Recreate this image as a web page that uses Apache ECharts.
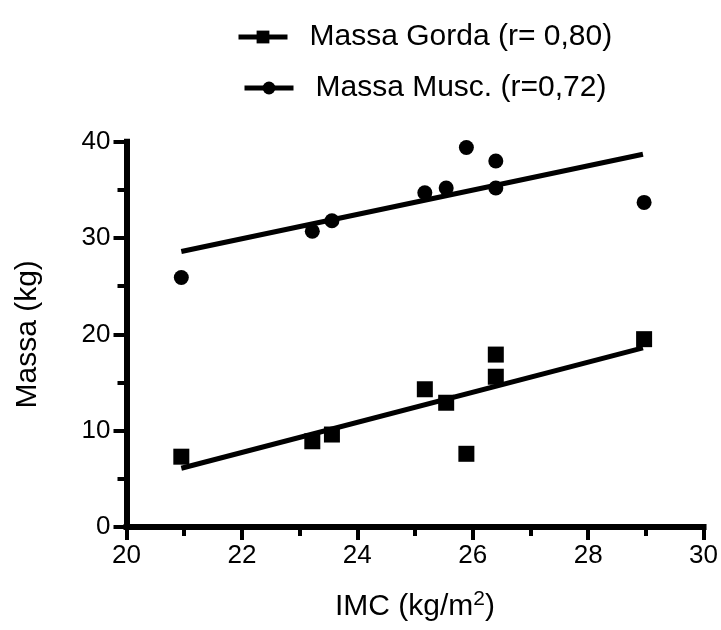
<!DOCTYPE html>
<html>
<head>
<meta charset="utf-8">
<script src="https://cdn.jsdelivr.net/npm/echarts@6/dist/echarts.min.js"></script>
<style>html,body{margin:0;padding:0;background:#fff}#c{width:721px;height:630px}</style>
</head>
<body>
<div id="c"></div>
<script>
// Data
var nameGorda = 'Massa Gorda (r= 0,80)';
var nameMusc = 'Massa Musc. (r=0,72)';
var imc = [20.95, 23.22, 23.56, 25.17, 25.54, 25.89, 26.40, 26.40, 28.97];
var massaGorda = [7.3, 8.9, 9.6, 14.3, 12.9, 7.6, 17.9, 15.6, 19.5];
var massaMusc = [25.9, 30.7, 31.8, 34.7, 35.2, 39.4, 38.0, 35.2, 33.7];
// regression line end points
var fitX = [20.95, 28.95];
var fitGorda = [6.1, 18.6];
var fitMusc = [28.6, 38.7];
var xTicks = [20, 22, 24, 26, 28, 30];
var yTicks = [0, 10, 20, 30, 40];

function pairs(xs, ys) { return xs.map(function (x, i) { return [x, ys[i]]; }); }

var FONT = '"Liberation Sans", Arial, sans-serif';
var chart = echarts.init(document.getElementById('c'), null, { renderer: 'canvas' });

var legendBase = {
  orient: 'horizontal',
  selectedMode: false,
  padding: 0,
  itemWidth: 49,
  itemHeight: 16,
  itemGap: 10,
  textStyle: { fontSize: 30, lineHeight: 30, fontFamily: FONT, color: '#000', padding: [0, 0, 0, 17] },
  lineStyle: { width: 5, color: '#000', opacity: 1 },
  itemStyle: { color: '#000', borderWidth: 0 }
};

var option = {
  backgroundColor: '#fff',
  animation: false,
  textStyle: { fontFamily: FONT },
  legend: [
    Object.assign({}, legendBase, { data: [nameGorda], left: 236, top: 22 }),
    Object.assign({}, legendBase, { data: [nameMusc], left: 242, top: 73 })
  ],
  grid: { left: 126.5, right: 17, top: 141.7, bottom: 103, containLabel: false },
  xAxis: {
    type: 'value',
    min: xTicks[0], max: xTicks[xTicks.length - 1], interval: 2,
    name: 'IMC (kg/m{sup|2})',
    nameLocation: 'middle',
    nameGap: 62,
    nameTextStyle: {
      fontSize: 30, color: '#000', fontFamily: FONT,
      rich: { sup: { fontSize: 21, verticalAlign: 'top', color: '#000', fontFamily: FONT, padding: [0, 0, 14, 0] } }
    },
    axisLine: { show: true, onZero: false, lineStyle: { color: '#000', width: 6, cap: 'square' } },
    axisTick: { show: true, length: 13, lineStyle: { color: '#000', width: 4 } },
    minorTick: { show: true, splitNumber: 2, length: 9, lineStyle: { color: '#000', width: 4 } },
    axisLabel: { fontSize: 26, color: '#000', fontFamily: FONT, margin: 16 },
    splitLine: { show: false }
  },
  yAxis: {
    type: 'value',
    min: yTicks[0], max: yTicks[yTicks.length - 1], interval: 10,
    name: 'Massa (kg)',
    nameLocation: 'middle',
    nameGap: 84,
    nameTextStyle: { fontSize: 30, color: '#000', fontFamily: FONT },
    axisLine: { show: true, onZero: false, lineStyle: { color: '#000', width: 6, cap: 'square' } },
    axisTick: { show: true, length: 13, lineStyle: { color: '#000', width: 4 } },
    minorTick: { show: true, splitNumber: 2, length: 9, lineStyle: { color: '#000', width: 4 } },
    axisLabel: { fontSize: 26, color: '#000', fontFamily: FONT, margin: 16 },
    splitLine: { show: false }
  },
  series: [
    {
      name: 'fitGorda', type: 'line', data: pairs(fitX, fitGorda),
      symbol: 'none', silent: true,
      lineStyle: { color: '#000', width: 5, cap: 'butt' }, z: 2
    },
    {
      name: 'fitMusc', type: 'line', data: pairs(fitX, fitMusc),
      symbol: 'none', silent: true,
      lineStyle: { color: '#000', width: 5, cap: 'butt' }, z: 2
    },
    {
      name: nameGorda, type: 'line', data: pairs(imc, massaGorda),
      symbol: 'rect', symbolSize: 16, showSymbol: true,
      lineStyle: { width: 0, opacity: 0 },
      itemStyle: { color: '#000', borderWidth: 0 }, z: 3
    },
    {
      name: nameMusc, type: 'line', data: pairs(imc, massaMusc),
      symbol: 'circle', symbolSize: 15, showSymbol: true,
      lineStyle: { width: 0, opacity: 0 },
      itemStyle: { color: '#000', borderWidth: 0 }, z: 3
    }
  ]
};
chart.setOption(option);
</script>
</body>
</html>
